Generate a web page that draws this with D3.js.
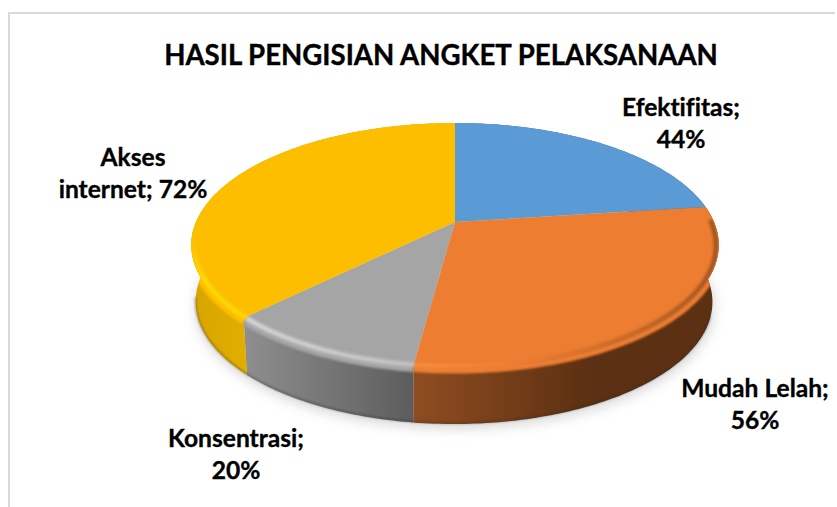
<!DOCTYPE html>
<html><head><meta charset="utf-8">
<script src="https://cdn.jsdelivr.net/npm/d3@7"></script>
<style>html,body{margin:0;padding:0;background:#fff}svg{display:block}text{font-family:Lato,sans-serif;font-weight:700;fill:#000;stroke:#000;stroke-width:.35px;font-variant-ligatures:none}</style>
</head><body><svg id="c" width="837" height="507"></svg>
<script>
const title = "HASIL PENGISIAN ANGKET PELAKSANAAN";
const categories = ["Efektifitas","Mudah Lelah","Konsentrasi","Akses internet"];
const values = [44,56,20,72];
const topColors = ["#5b9bd5","#ed7d31","#a5a5a5","#fdbe00"];
const wallStops = [["#3a6a96","#3a6a96"],["#8f4c20","#5c3012"],["#8e8e8e","#5c5c5c"],["#d8a500","#e0ad00"]];
const labelCenters = [[681,116],[755,397],[236,447],[133,166]];

const svg = d3.select("#c"), defs = svg.append("defs");
const W = 837, H = 507;
const cx = 455, cy = 222, Rx = 259, Sy = 117.7, p = 0.1885, depth = 57;
const project = (a, r = 1, dx = 0, dy = 0, sx = 1) => {
  const u = r * Math.sin(a), v = r * Math.cos(a), w = 1 + p * v;
  return [cx + dx + sx * Rx * u / w, cy + dy - Sy * v / w];
};
const line = d3.line();
const arcPts = (a0, a1, ...o) => {
  const n = Math.max(2, Math.ceil((a1 - a0) * 60));
  return d3.range(n + 1).map(i => project(a0 + (a1 - a0) * i / n, ...o));
};
const arcs = d3.pie().sort(null)(values);
const deg = Math.PI / 180;

svg.append("path").attr("fill","none").attr("stroke","#d9d9d9").attr("stroke-width",2)
  .attr("d", line([[9,H],[9,13],[835,13]]));

const blur = (id, s) => defs.append("filter").attr("id",id)
  .attr("x","-20%").attr("y","-20%").attr("width","140%").attr("height","140%")
  .append("feGaussianBlur").attr("stdDeviation",s);
blur("b1",1.2); blur("b2",1.7); blur("b6",6);

const grad = (id, stops, x1, x2, y1 = 0, y2 = 0) => {
  const g = defs.append("linearGradient").attr("id",id).attr("gradientUnits","userSpaceOnUse")
    .attr("x1",x1).attr("x2",x2).attr("y1",y1).attr("y2",y2);
  g.selectAll("stop").data(stops).join("stop")
    .attr("offset",(d,i)=>i/(stops.length-1)).attr("stop-color",d=>d);
};
const wallRange = [[600,720],[415,590],[245,415],[190,245]];
arcs.forEach((d,i)=>grad("w"+i, wallStops[i], ...wallRange[i]));
grad("rOrange", ["#f88d3d","#ee7e32","#c96a28","#9c5320"], 415, 715);
grad("rGray", ["#d8d8d8","#c4c4c4"], 245, 415);
grad("rYellow", ["#fdbe00","#ffdc00","#ffd800"], 0, 0, 238, 318);

const silhouette = defs.append("clipPath").attr("id","sil");
arcs.forEach(d=>{
  silhouette.append("path").attr("d", line([...arcPts(d.startAngle,d.endAngle),
    ...arcPts(d.startAngle,d.endAngle,1,-1,depth,0.98).reverse()])+"Z");
  silhouette.append("path").attr("d", line([[cx,cy],...arcPts(d.startAngle,d.endAngle)])+"Z");
});

// soft ground shadow
svg.append("path").attr("fill","#bdbdbd").attr("opacity",0.55).attr("filter","url(#b6)")
  .attr("d", line(arcPts(0,2*Math.PI,1,0,depth+5,0.985))+"Z");

// side walls
svg.append("g").selectAll("path").data(arcs).join("path")
  .attr("fill",(d,i)=>`url(#w${i})`)
  .attr("d", d => line([...arcPts(d.startAngle,d.endAngle),
    ...arcPts(d.startAngle,d.endAngle,1,-1,depth,0.98).reverse()])+"Z");

// dark lower edge of the wall
svg.append("path").attr("fill","none").attr("stroke","#2e2e2e").attr("stroke-width",1.5)
  .attr("opacity",0.45).attr("filter","url(#b1)")
  .attr("d", line(arcPts(Math.PI*0.6,Math.PI*1.45,1,-1,depth-1,0.98)));

// top faces
svg.append("g").selectAll("path").data(arcs).join("path")
  .attr("fill",(d,i)=>topColors[i])
  .attr("d", d => line([[cx,cy],...arcPts(d.startAngle,d.endAngle)])+"Z");

// bevel: the face colour rolls over the rim into the wall
const bevels = [
  {a0:arcs[1].startAngle+6*deg, a1:arcs[1].endAngle, base:"#ed7d31", hi:"url(#rOrange)"},
  {a0:arcs[2].startAngle, a1:arcs[2].endAngle, base:"#a5a5a5", hi:"url(#rGray)"},
  {a0:arcs[3].startAngle, a1:272*deg, base:"#fdbe00", hi:"url(#rYellow)"}
];
const bevelLayer = svg.append("g").attr("clip-path","url(#sil)");
bevels.forEach(b=>{
  bevelLayer.append("path").attr("fill","none").attr("stroke",b.base).attr("stroke-width",7)
    .attr("filter","url(#b1)")
    .attr("d", line(arcPts(b.a0,b.a1,1,0,3)));
  bevelLayer.append("path").attr("fill","none").attr("stroke",b.hi).attr("stroke-width",4.5)
    .attr("filter","url(#b2)")
    .attr("d", line(arcPts(b.a0,b.a1,0.99,0,1)));
});

// title and data labels
svg.append("text").attr("x",441).attr("y",65).attr("text-anchor","middle")
  .attr("font-size",27.6).text(title);

const wrap = (s, max = 14) => s.split(" ").reduce((ls,w)=>{
  const last = ls[ls.length-1];
  if (last && (last+" "+w).length <= max) ls[ls.length-1] = last+" "+w; else ls.push(w);
  return ls;
},[]);
categories.forEach((c,i)=>{
  const t = svg.append("text").attr("text-anchor","middle").attr("font-size",24.6);
  wrap(`${c}; ${values[i]}%`).forEach((l,j)=>{
    t.append("tspan").attr("x",labelCenters[i][0]).attr("y",labelCenters[i][1]+j*31.5).text(l);
  });
});
</script></body></html>
